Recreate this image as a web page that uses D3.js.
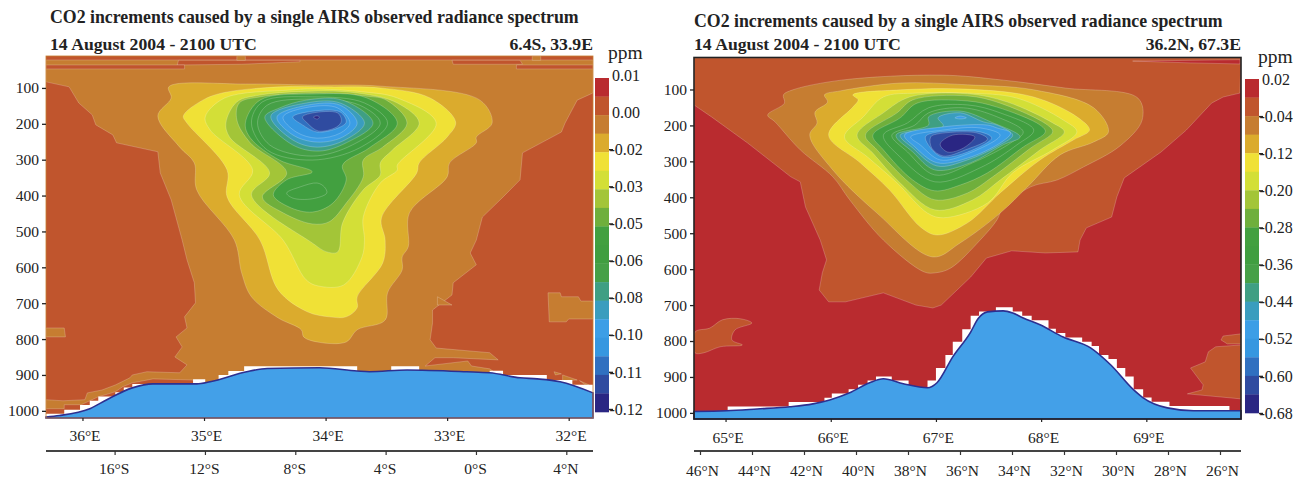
<!DOCTYPE html>
<html>
<head>
<meta charset="utf-8">
<script src="https://cdn.jsdelivr.net/npm/d3@7"></script>
<style>
  html, body { margin: 0; padding: 0; background: #fff; }
  text { font-family: "Liberation Serif", serif; fill: #222; }
</style>
</head>
<body>
<div id="chart"></div>
<script>
// colour bands of the colour bar, top to bottom
const bandColors = ['#B92B2F', '#C0552D', '#C67D31', '#DBAB2D', '#F0E136', '#D3DF37', '#A3C538', '#6FAF3C',
  '#42A040', '#409E40', '#46A047', '#3F9F83', '#3A9DBE', '#3C9EE6', '#3697E0', '#3070C0', '#2F4BA0', '#2A2683'];
const legendLeft = ['0.01', '0.00', '-0.02', '-0.03', '-0.05', '-0.06', '-0.08', '-0.10', '-0.11', '-0.12'];
const legendRight = ['0.02', '-0.04', '-0.12', '-0.20', '-0.28', '-0.36', '-0.44', '-0.52', '-0.60', '-0.68'];

const pressureTicks = [100, 200, 300, 400, 500, 600, 700, 800, 900, 1000];
const lonTicksLeft = [36, 35, 34, 33, 32];
const lonTicksRight = [65, 66, 67, 68, 69];
const latTicksLeft = [-16, -12, -8, -4, 0, 4];
const latLabelsLeft = ['16°S', '12°S', '8°S', '4°S', '0°S', '4°N'];
const latTicksRight = [46, 44, 42, 40, 38, 36, 34, 32, 30, 28, 26];

// ---- left panel, contours as [lon, hPa] ----
const lOrange = [[36.30,22],[31.80,22],[31.80,114],[31.93,134],[32.03,198],[32.06,223],[32.38,281],[32.40,356],[32.54,404],[32.71,460],[32.76,524],[32.81,560],[32.76,593],[32.95,643],[32.96,677],[33.12,719],[33.12,755],[33.14,802],[33.09,825],[32.65,838],[32.58,858],[32.95,852],[33.10,852],[33.18,875],[32.83,861],[32.80,875],[32.65,883],[32.59,897],[32.59,969],[35.04,969],[35.09,914],[35.42,911],[35.59,922],[35.67,933],[35.73,947],[35.87,961],[35.94,972],[36.01,983],[36.15,983],[36.15,994],[36.30,994],[36.30,969],[36.16,972],[35.98,969],[35.96,950],[35.84,942],[35.73,928],[35.61,908],[35.59,900],[35.47,891],[35.20,894],[35.14,872],[35.24,850],[35.18,822],[35.23,794],[35.14,769],[35.16,738],[35.07,699],[35.08,643],[35.14,579],[35.18,524],[35.27,412],[35.36,337],[35.38,278],[35.72,253],[35.75,231],[35.89,203],[35.92,175],[36.03,142],[36.11,97],[36.30,83]];
const lStripCentre = [[35.21,23],[34.21,23],[34.21,27],[34.69,34],[35.22,36]];
const lStripRight = [[32.96,23],[32.40,23],[32.38,34],[32.95,34]];
const lBarLeft = [[36.30,36],[35.16,36],[35.16,47],[36.30,47]];
const lBarRight = [[32.43,36],[31.80,36],[31.80,47],[32.43,47]];
const lNubA = [[34.73,11],[34.66,11],[34.66,23],[34.73,23]];
const lNubB = [[32.30,11],[32.23,11],[32.23,23],[32.30,23]];
const lPatchLeft = [[36.30,769],[36.15,769],[36.14,794],[36.30,794]];
const lPatchRight = [[32.17,671],[32.07,671],[32.06,682],[31.92,682],[31.90,694],[31.80,694],[31.80,744],[32.00,744],[32.02,752],[32.16,752]];
const lPatchTri = [[33.08,682],[32.96,705],[33.08,705]];
const lCornerA = [[32.05,900],[31.93,914],[32.05,916]];
const lCornerB = [[31.91,916],[31.83,928],[31.83,936]];
const lCornerC = [[32.12,891],[32.06,897],[32.11,900]];
const lDarkYellow = [[35.29,97],[34.66,89],[34.11,92],[33.55,95],[32.73,134],[32.63,198],[32.76,237],[32.76,253],[32.98,309],[33.00,348],[33.31,448],[33.32,543],[33.37,571],[33.37,607],[33.49,671],[33.51,747],[33.74,774],[33.83,808],[34.07,808],[34.18,794],[34.20,774],[34.39,741],[34.61,682],[34.69,616],[34.75,524],[35.06,384],[35.08,309],[35.20,265],[35.38,178],[35.27,128]];
const lYellow = [[35.17,178],[35.01,134],[34.85,114],[34.38,97],[33.97,97],[33.55,100],[33.14,128],[32.93,195],[33.00,237],[33.23,309],[33.25,337],[33.54,462],[33.51,524],[33.53,588],[33.74,682],[33.74,713],[33.83,738],[33.97,738],[34.15,724],[34.39,663],[34.54,524],[34.81,404],[34.81,329],[35.14,198]];
const lLime = [[34.99,181],[34.83,128],[34.30,106],[34.11,103],[33.69,111],[33.41,128],[33.09,198],[33.41,315],[33.41,329],[33.55,365],[33.69,460],[33.68,524],[33.70,571],[33.85,649],[34.06,652],[34.16,635],[34.35,524],[34.71,398],[34.60,329],[34.95,217]];
const lYellowGreen = [[34.82,198],[34.73,139],[34.54,120],[34.11,109],[33.74,114],[33.41,142],[33.23,198],[33.45,273],[33.55,309],[33.55,343],[33.69,384],[33.86,476],[33.90,557],[33.99,557],[34.11,532],[34.61,398],[34.46,337],[34.79,237]];
const lMidGreen = [[34.73,189],[34.71,142],[34.54,125],[34.11,114],[33.66,123],[33.50,134],[33.33,198],[33.53,265],[33.69,301],[33.69,348],[33.83,421],[33.97,473],[34.11,479],[34.35,448],[34.52,404],[34.32,337],[34.62,253]];
const lDarkGreen = [[34.66,198],[34.54,134],[34.11,117],[33.66,128],[33.41,198],[33.64,267],[33.86,315],[33.83,356],[33.94,421],[34.11,446],[34.30,432],[34.43,398],[34.32,356],[34.11,334],[34.38,301],[34.62,239]];
const lGreenA = [[34.61,198],[34.52,139],[34.11,125],[33.68,142],[33.49,198],[33.72,267],[34.11,301],[34.48,273]];
const lGreenB = [[34.56,198],[34.48,148],[34.11,131],[33.72,148],[33.55,198],[33.78,259],[34.11,290],[34.46,259]];
const lGreenLow = [[34.32,393],[34.21,376],[34.07,365],[34.01,376],[33.99,393],[34.11,409],[34.27,407]];
const lTeal = [[34.50,181],[34.38,156],[34.16,134],[33.86,134],[33.61,198],[33.83,253],[34.05,276],[34.27,259]];
const lCyan = [[34.45,178],[34.16,142],[33.88,142],[33.68,198],[33.84,245],[34.07,265],[34.27,245]];
const lSky = [[34.40,181],[34.15,148],[33.88,148],[33.74,198],[33.86,237],[34.07,251],[34.27,231]];
const lSkyInner = [[34.35,181],[34.13,153],[33.90,156],[33.80,198],[33.88,226],[34.07,240],[34.24,223]];
const lBlue = [[34.27,181],[34.15,167],[33.88,167],[33.83,195],[33.90,212],[34.07,223],[34.19,203]];
const lDeepBlue = [[34.19,181],[34.11,170],[33.90,170],[33.87,192],[33.91,209],[34.06,220],[34.15,198]];
const lNavy = [[34.10,181],[34.07,178],[34.05,181],[34.07,187]];
// surface pressure and the white below-ground cells
const lTerrain = [[36.30,1017],[36.19,1013],[35.94,994],[35.80,969],[35.59,936],[35.42,925],[35.06,925],[34.95,919],[34.65,891],[34.48,882],[34.05,880],[33.74,889],[33.64,891],[33.33,886],[32.84,891],[32.65,894],[32.40,908],[32.26,911],[32.07,919],[31.80,950]];
const lSteps = [[36.30,1008],[36.15,997],[36.02,984],[35.94,972],[35.87,960],[35.73,948],[35.66,935],[35.59,925],[35.42,950],[35.09,912],[34.99,950],[34.88,900],[34.80,889],[34.67,876],[33.74,950],[33.46,876],[33.23,950],[32.65,888],[32.54,900],[32.18,914],[31.97,927],[31.80,927]];

// ---- right panel ----
const rOrangeRed = [[64.70,12],[69.90,12],[69.89,110],[69.73,121],[69.62,138],[69.38,213],[69.14,274],[68.79,346],[68.72,399],[68.67,455],[68.43,485],[68.37,519],[68.35,552],[68.04,555],[67.72,549],[67.48,569],[67.33,622],[67.05,700],[66.97,708],[66.81,700],[66.50,666],[66.14,691],[65.98,691],[65.89,658],[65.92,610],[65.96,574],[65.90,519],[65.76,427],[65.71,357],[65.62,343],[65.21,249],[64.87,177],[64.70,143]];
const rRedStrip = [[68.87,21],[69.89,17],[69.89,29],[69.42,26]];
const rPatchLeft = [[64.71,775],[64.85,764],[64.97,741],[65.14,738],[65.25,750],[65.09,769],[65.06,797],[65.16,811],[64.95,816],[64.79,833],[64.71,833]];
const rPatchTop = [[69.90,780],[69.73,786],[69.71,797],[69.77,808],[69.90,808]];
const rPatchRight = [[69.90,811],[69.66,816],[69.59,830],[69.56,858],[69.42,875],[69.54,922],[69.53,936],[69.39,947],[69.90,961]];
const rOrange = [[65.55,115],[65.64,101],[66.10,74],[67.05,60],[67.64,74],[68.23,96],[68.92,124],[68.96,185],[68.75,257],[68.40,316],[68.15,352],[67.90,371],[67.64,427],[67.58,463],[67.42,519],[67.14,597],[67.00,610],[66.89,608],[66.50,519],[66.18,407],[66.02,343],[65.71,268],[65.47,190],[65.40,171],[65.56,138]];
const rDarkYellow = [[65.80,227],[65.87,193],[65.85,163],[65.97,135],[65.94,115],[66.09,104],[66.66,82],[67.30,87],[67.93,101],[68.50,151],[68.64,218],[68.50,246],[68.18,282],[67.87,371],[67.61,444],[67.23,527],[66.97,566],[66.44,444],[66.02,324]];
const rYellow = [[65.98,227],[66.21,149],[66.26,129],[66.21,115],[66.66,101],[67.30,99],[67.93,121],[68.34,176],[68.46,213],[68.31,240],[67.99,296],[67.61,388],[67.30,471],[67.01,505],[66.85,482],[66.56,380],[66.28,304]];
const rLime = [[66.13,232],[66.31,176],[66.50,121],[66.82,110],[67.30,110],[67.77,124],[68.21,185],[68.34,218],[68.11,268],[67.73,332],[67.49,416],[67.07,457],[66.92,444],[66.63,360],[66.35,288]];
const rYellowGreen = [[66.25,227],[66.50,165],[66.75,121],[67.30,112],[67.68,135],[68.11,193],[68.22,218],[67.99,268],[67.61,352],[67.35,407],[66.99,435],[66.66,360],[66.40,277]];
const rMidGreen = [[66.33,227],[66.63,165],[66.78,129],[67.30,118],[67.61,138],[68.06,199],[68.11,218],[67.90,263],[67.54,343],[67.30,388],[66.99,407],[66.75,360],[66.44,268]];
const rDarkGreen = [[66.40,227],[66.66,179],[66.82,138],[67.30,132],[67.58,149],[67.99,199],[68.04,218],[67.83,260],[67.49,332],[67.23,366],[66.99,382],[66.78,352],[66.50,268]];
const rGreenA = [[66.50,227],[66.73,193],[66.93,151],[67.30,143],[67.61,165],[67.93,213],[67.77,254],[67.42,318],[66.99,357],[66.66,288]];
const rGreenB = [[66.58,227],[66.80,199],[66.93,165],[67.26,151],[67.58,176],[67.83,218],[67.71,249],[67.35,304],[66.99,338],[66.73,274]];
const rTeal = [[66.62,227],[66.93,199],[66.93,176],[67.23,160],[67.52,190],[67.80,232],[67.64,254],[67.33,304],[66.99,324],[66.78,274]];
const rCyan = [[67.02,179],[67.23,165],[67.45,190],[67.58,199],[67.73,227],[67.61,254],[67.30,296],[67.01,313],[66.78,263],[66.66,227],[67.07,202]];
const rOval = [[67.18,179],[67.23,174],[67.29,179],[67.23,182]];
const rSky = [[66.70,227],[67.07,204],[67.49,199],[67.58,207],[67.71,221],[67.61,249],[67.30,291],[67.01,304],[66.80,260]];
const rSkyInner = [[66.76,232],[67.07,213],[67.42,207],[67.61,227],[67.30,279],[67.04,296],[66.85,254]];
const rBlue = [[66.90,232],[66.97,221],[67.42,218],[67.53,235],[67.30,274],[67.06,288],[66.95,263]];
const rDeepBlue = [[66.95,232],[67.01,224],[67.39,221],[67.49,238],[67.28,268],[67.07,285],[66.96,263]];
const rNavy = [[67.04,252],[67.16,227],[67.37,232],[67.26,263],[67.11,274]];
const rTerrain = [[64.70,996],[65.01,994],[65.30,989],[65.61,983],[65.83,975],[65.99,964],[66.18,944],[66.37,916],[66.50,905],[66.69,919],[66.92,930],[67.01,916],[67.16,844],[67.33,775],[67.40,738],[67.49,719],[67.64,716],[67.73,722],[67.83,736],[67.99,755],[68.21,789],[68.47,819],[68.66,866],[68.88,936],[68.97,958],[69.20,986],[69.45,994],[69.90,994]];
const rSteps = [[64.70,1017],[65.02,982],[65.60,970],[65.94,958],[66.01,946],[66.17,934],[66.26,922],[66.35,910],[66.43,899],[66.58,910],[66.74,1017],[66.92,910],[67.00,875],[67.09,839],[67.16,802],[67.25,767],[67.33,730],[67.41,718],[67.57,706],[67.73,718],[67.82,730],[67.91,742],[68.07,766],[68.14,778],[68.23,790],[68.39,802],[68.48,814],[68.55,839],[68.64,850],[68.72,875],[68.80,899],[68.88,934],[68.97,957],[69.05,969],[69.22,981],[69.79,1017],[69.90,1017]];

const width = 1298, height = 480;
const svg = d3.select('#chart').append('svg')
  .attr('width', width).attr('height', height)
  .style('display', 'block');

const red = 0, orangeRed = 1, orange = 2;

// [band index, ring, smooth?]
const leftLayers = [
  [orange, lOrange, false], [orangeRed, lStripCentre, false], [orangeRed, lStripRight, false],
  [orangeRed, lBarLeft, false], [orangeRed, lBarRight, false], [orange, lNubA, false], [orange, lNubB, false],
  [orange, lPatchLeft, false], [orange, lPatchRight, false], [orange, lPatchTri, false],
  [orange, lCornerA, false], [orange, lCornerB, false], [orange, lCornerC, false],
  [3, lDarkYellow, true], [4, lYellow, true], [5, lLime, true], [6, lYellowGreen, true], [7, lMidGreen, true],
  [8, lDarkGreen, true], [9, lGreenA, true], [10, lGreenB, true], [9, lGreenLow, true],
  [11, lTeal, true], [12, lCyan, true], [13, lSky, true], [14, lSkyInner, true],
  [15, lBlue, true], [16, lDeepBlue, true], [17, lNavy, true]
];
const rightLayers = [
  [orangeRed, rOrangeRed, false], [red, rRedStrip, false],
  [orangeRed, rPatchLeft, true], [orangeRed, rPatchTop, false], [orangeRed, rPatchRight, false],
  [orange, rOrange, true], [3, rDarkYellow, true], [4, rYellow, true], [5, rLime, true], [6, rYellowGreen, true],
  [7, rMidGreen, true], [8, rDarkGreen, true], [9, rGreenA, true], [10, rGreenB, true],
  [11, rTeal, true], [12, rCyan, true], [13, rOval, true], [13, rSky, true], [14, rSkyInner, true],
  [15, rBlue, true], [16, rDeepBlue, true], [17, rNavy, true]
];

function panel(cfg) {
  let x = d3.scaleLinear().domain(cfg.lonDomain).range([cfg.left, cfg.right]);
  let y = d3.scaleLinear().domain(cfg.pDomain).range([cfg.top, cfg.bottom]);
  let lat = d3.scaleLinear().domain(cfg.latDomain).range(cfg.latRange);
  let g = svg.append('g');

  g.append('clipPath').attr('id', cfg.id)
    .append('rect').attr('x', cfg.left).attr('y', cfg.top)
    .attr('width', cfg.right - cfg.left).attr('height', cfg.bottom - cfg.top);

  let plot = g.append('g').attr('clip-path', 'url(#' + cfg.id + ')');
  plot.append('rect').attr('x', cfg.left).attr('y', cfg.top)
    .attr('width', cfg.right - cfg.left).attr('height', cfg.bottom - cfg.top)
    .attr('fill', bandColors[cfg.base]);

  let ring = d3.line().x(d => x(d[0])).y(d => y(d[1]));
  plot.selectAll('.layer').data(cfg.layers).enter().append('path')
    .attr('class', 'layer')
    .attr('d', d => ring.curve(d[2] ? d3.curveCatmullRomClosed.alpha(0.5) : d3.curveLinearClosed)(d[1]))
    .attr('fill', d => bandColors[d[0]])
    .attr('stroke', '#fff').attr('stroke-opacity', 0.3).attr('stroke-width', 0.7);

  // white cells under the model's lowest level
  plot.append('path')
    .attr('d', d3.area().curve(d3.curveStepAfter).x(d => x(d[0])).y0(cfg.bottom).y1(d => y(d[1]))(cfg.steps))
    .attr('fill', '#fff');

  let terrain = d3.area().curve(d3.curveMonotoneX).x(d => x(d[0])).y0(cfg.bottom).y1(d => y(d[1]));
  g.append('path').attr('d', terrain(cfg.terrain) + 'Z')
    .attr('fill', '#43A0E8').attr('stroke', '#2D2F90').attr('stroke-width', 1.6);

  g.append('rect').attr('x', cfg.left).attr('y', cfg.top)
    .attr('width', cfg.right - cfg.left).attr('height', cfg.bottom - cfg.top)
    .attr('fill', 'none').attr('stroke', cfg.frame).attr('stroke-width', cfg.frameWidth);

  // pressure axis
  let yAxis = g.append('g').attr('transform', 'translate(' + cfg.left + ',0)')
    .call(d3.axisLeft(y).tickValues(pressureTicks).tickSize(4).tickPadding(3).tickFormat(d3.format('d')));
  yAxis.select('.domain').remove();
  yAxis.selectAll('line').attr('stroke', '#222').attr('stroke-width', 1.3);
  yAxis.selectAll('text').style('font-size', '15.5px').style('font-family', '"Liberation Serif", serif').attr('fill', '#222');

  // longitude axis
  let lonAxis = g.append('g').attr('transform', 'translate(0,' + cfg.bottom + ')')
    .call(d3.axisBottom(x).tickValues(cfg.lonTicks).tickSize(3).tickPadding(cfg.lonPad).tickFormat(d => d + '°E'));
  lonAxis.select('.domain').remove();
  lonAxis.selectAll('line').attr('stroke', '#222').attr('stroke-width', 1.2);
  lonAxis.selectAll('text').attr('dx', 2).attr('dy', '0.95em').style('font-size', '15.5px').style('font-family', '"Liberation Serif", serif').attr('fill', '#222');

  // latitude axis
  let latAxis = g.append('g').attr('transform', 'translate(0,451)')
    .call(d3.axisBottom(lat).tickValues(cfg.latTicks).tickSize(4).tickPadding(cfg.latPad).tickSizeOuter(0).tickFormat(cfg.latFormat));
  latAxis.select('.domain').attr('d', 'M' + cfg.left + ',0H' + cfg.right).attr('stroke', '#444').attr('stroke-width', 1.8);
  latAxis.selectAll('line').attr('stroke', '#333').attr('stroke-width', 1.2);
  latAxis.selectAll('text').attr('dx', cfg.latDx).style('font-size', '15.5px').style('font-family', '"Liberation Serif", serif').attr('fill', '#222');

  // titles
  g.append('text').attr('x', cfg.titleX).attr('y', cfg.titleY)
    .style('font-weight', 'bold').style('font-size', '17.8px')
    .text('CO2 increments caused by a single AIRS observed radiance spectrum');
  g.append('text').attr('x', cfg.titleX).attr('y', 50)
    .style('font-weight', 'bold').style('font-size', '17.7px')
    .text('14 August 2004 - 2100 UTC');
  g.append('text').attr('x', cfg.right).attr('y', 50).attr('text-anchor', 'end')
    .style('font-weight', 'bold').style('font-size', '17.7px')
    .text(cfg.location);

  // colour bar
  let band = d3.scaleBand().domain(d3.range(bandColors.length)).range([cfg.barTop, cfg.barBottom]);
  g.selectAll('.band').data(bandColors).enter().append('rect')
    .attr('class', 'band')
    .attr('x', cfg.barX).attr('width', 14)
    .attr('y', (d, i) => band(i)).attr('height', band.bandwidth() + 0.3)
    .attr('fill', d => d);

  let legendScale = d3.scalePoint().domain(cfg.legend).range([cfg.barTop - cfg.legendShift, cfg.barBottom - cfg.legendShift]);
  let legend = g.append('g').attr('transform', 'translate(' + (cfg.barX + 14) + ',0)')
    .call(d3.axisRight(legendScale).tickSize(0).tickPadding(0));
  legend.select('.domain').remove();
  legend.selectAll('text').attr('x', d => d[0] === '-' ? 0.5 : 3)
    .style('font-size', '16px').style('font-family', '"Liberation Serif", serif').attr('fill', '#222');
  legend.selectAll('line').filter(d => d[0] === '-')
    .attr('x2', 4).attr('stroke', '#222').attr('stroke-width', 1.4);

  g.append('text').attr('x', cfg.barX + 13).attr('y', cfg.ppmY).style('font-size', '19.5px').text('ppm');
}

panel({
  id: 'clipLeft', base: orangeRed, layers: leftLayers, steps: lSteps, terrain: lTerrain,
  left: 46, right: 593, top: 56, bottom: 418,
  lonDomain: [36.30, 31.80], pDomain: [11, 1020],
  latDomain: [-16, 4], latRange: [114.6, 566.3], latTicks: latTicksLeft,
  latFormat: (d, i) => latLabelsLeft[i], latDx: -1, latPad: 8, lonPad: 5,
  lonTicks: lonTicksLeft, frame: '#C67D31', frameWidth: 0.8,
  titleX: 50, titleY: 23, location: '6.4S, 33.9E',
  barX: 595, barTop: 78, barBottom: 412, legend: legendLeft, legendShift: 3, ppmY: 59
});

panel({
  id: 'clipRight', base: red, layers: rightLayers, steps: rSteps, terrain: rTerrain,
  left: 694, right: 1241, top: 57.5, bottom: 419,
  lonDomain: [64.70, 69.90], pDomain: [11, 1017],
  latDomain: [46, 26], latRange: [700, 1220], latTicks: latTicksRight,
  latFormat: d => d + '°N', latDx: 2, latPad: 10, lonPad: 6,
  lonTicks: lonTicksRight, frame: '#222', frameWidth: 1.6,
  titleX: 694, titleY: 27, location: '36.2N, 67.3E',
  barX: 1245, barTop: 79, barBottom: 413, legend: legendRight, legendShift: 0, ppmY: 63
});
</script>
</body>
</html>
